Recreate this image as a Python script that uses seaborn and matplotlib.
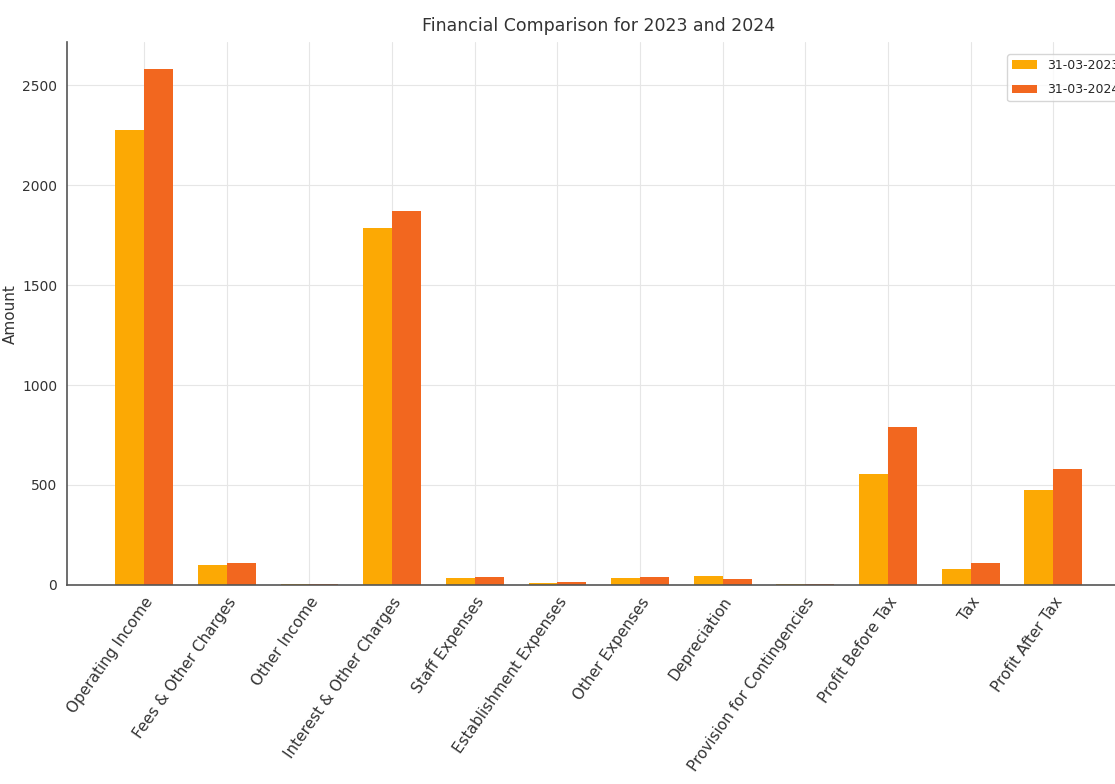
import pandas as pd
import matplotlib.pyplot as plt
import seaborn as sns

categories = ["Operating Income", "Fees & Other Charges", "Other Income",
              "Interest & Other Charges", "Staff Expenses", "Establishment Expenses",
              "Other Expenses", "Depreciation", "Provision for Contingencies",
              "Profit Before Tax", "Tax", "Profit After Tax"]
vals_2023 = [2275, 100, 3, 1785, 35, 8, 35, 45, 3, 555, 80, 475]
vals_2024 = [2580, 110, 5, 1870, 40, 12, 40, 30, 4, 790, 110, 580]
periods = ["31-03-2023", "31-03-2024"]
colors = ["#FCA904", "#F2671F"]

df = pd.DataFrame({
    "Item": categories * 2,
    "Period": [periods[0]] * len(categories) + [periods[1]] * len(categories),
    "Amount": vals_2023 + vals_2024,
})

sns.set_style("whitegrid")
plt.rcParams['font.family'] = ['DejaVu Sans']

fig = plt.figure(figsize=(11.15, 7.84), dpi=100)
ax = fig.add_axes([0.060, 0.254, 0.954, 0.692])

sns.barplot(data=df, x="Item", y="Amount", hue="Period", palette=colors,
            width=0.7, saturation=1, linewidth=0, ax=ax)

ax.set_title("Financial Comparison for 2023 and 2024", fontsize=12.5, color="#333333", pad=8)
ax.set_xlabel("")
ax.set_ylabel("Amount", fontsize=11, color="#333333")
ax.yaxis.set_label_coords(-0.046, 0.5)
ax.set_xlim(-0.935, 11.935)
ax.set_ylim(0, 2715)
ax.tick_params(axis="y", labelsize=10, colors="#333333")
ax.tick_params(axis="x", labelsize=11, colors="#333333")
plt.setp(ax.get_xticklabels(), rotation=55, ha="right", rotation_mode="anchor")
ax.grid(color="#e6e6e6", linewidth=0.8)
for s in ["top", "right"]:
    ax.spines[s].set_visible(False)
for s in ["left", "bottom"]:
    ax.spines[s].set_color("#555555")
    ax.spines[s].set_linewidth(1.2)
ax.legend(loc="upper right", fontsize=9, title=None, labelspacing=0.9,
          bbox_to_anchor=(1.0, 0.99))

fig.savefig("out.png", dpi=100)
